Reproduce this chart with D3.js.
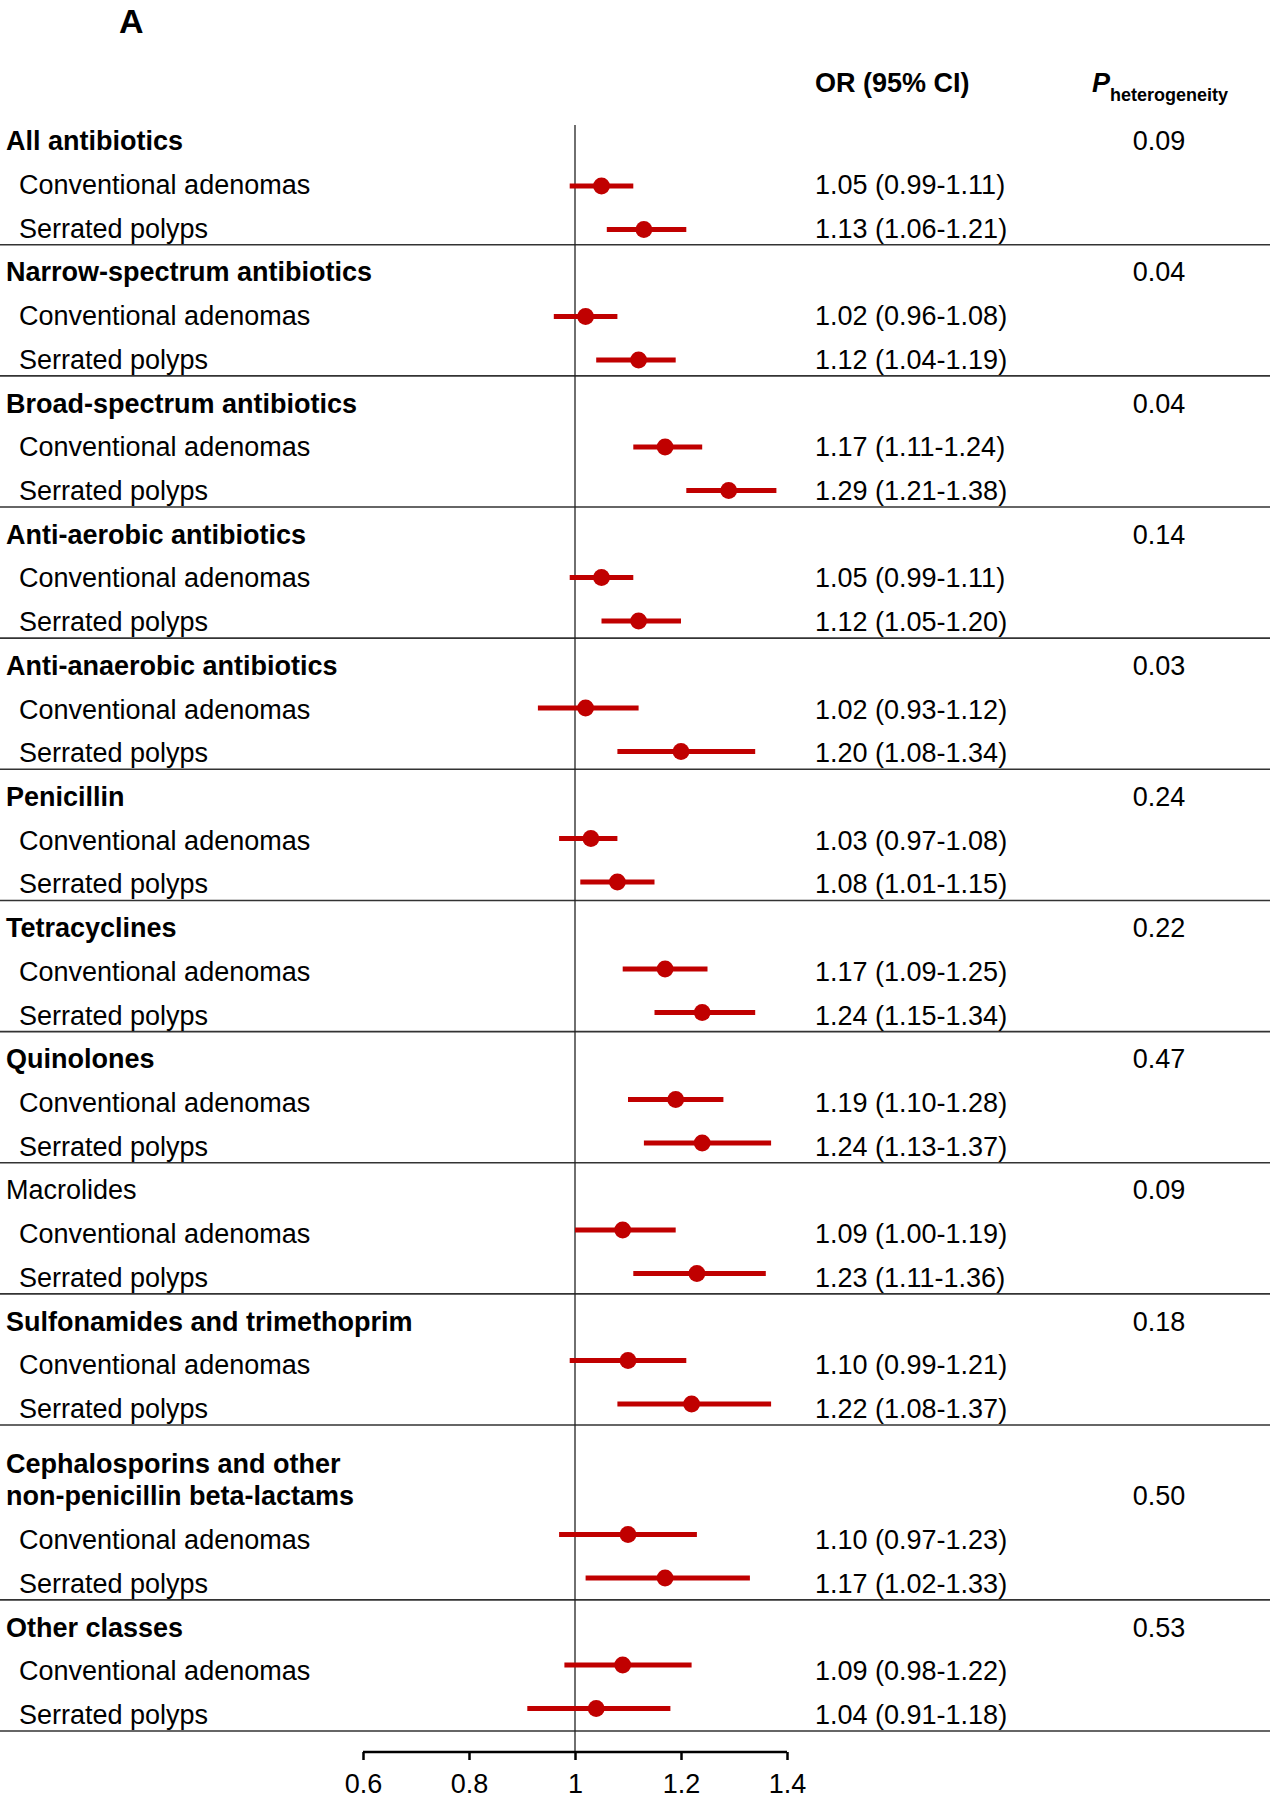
<!DOCTYPE html>
<html>
<head>
<meta charset="utf-8">
<script src="https://cdn.jsdelivr.net/npm/d3@7"></script>
<style>
  html, body { margin: 0; padding: 0; background: #fff; }
  svg text { font-family: "Liberation Sans", Arial, Helvetica, sans-serif; fill: #000; }
</style>
</head>
<body>
<svg id="chart" width="1277" height="1800"></svg>
<script>
// ---- data ----
const groupLabels = [
  ["All antibiotics"],
  ["Narrow-spectrum antibiotics"],
  ["Broad-spectrum antibiotics"],
  ["Anti-aerobic antibiotics"],
  ["Anti-anaerobic antibiotics"],
  ["Penicillin"],
  ["Tetracyclines"],
  ["Quinolones"],
  ["Macrolides"],
  ["Sulfonamides and trimethoprim"],
  ["Cephalosporins and other", "non-penicillin beta-lactams"],
  ["Other classes"]
];
const groupBold = [true, true, true, true, true, true, true, true, false, true, true, true];
const pHeterogeneity = ["0.09", "0.04", "0.04", "0.14", "0.03", "0.24", "0.22", "0.47", "0.09", "0.18", "0.50", "0.53"];
const subLabels = ["Conventional adenomas", "Serrated polyps"];

const caOR = [1.05, 1.02, 1.17, 1.05, 1.02, 1.03, 1.17, 1.19, 1.09, 1.10, 1.10, 1.09];
const caLo = [0.99, 0.96, 1.11, 0.99, 0.93, 0.97, 1.09, 1.10, 1.00, 0.99, 0.97, 0.98];
const caHi = [1.11, 1.08, 1.24, 1.11, 1.12, 1.08, 1.25, 1.28, 1.19, 1.21, 1.23, 1.22];
const spOR = [1.13, 1.12, 1.29, 1.12, 1.20, 1.08, 1.24, 1.24, 1.23, 1.22, 1.17, 1.04];
const spLo = [1.06, 1.04, 1.21, 1.05, 1.08, 1.01, 1.15, 1.13, 1.11, 1.08, 1.02, 0.91];
const spHi = [1.21, 1.19, 1.38, 1.20, 1.34, 1.15, 1.34, 1.37, 1.36, 1.37, 1.33, 1.18];

const axisTicks = [0.6, 0.8, 1, 1.2, 1.4];
const axisTickLabels = ["0.6", "0.8", "1", "1.2", "1.4"];

// ---- layout ----
const RED = "#c00000";
const FS = 27;
const svg = d3.select("#chart");

const x = d3.scaleLinear().domain([0.6, 1.4]).range([363, 787]);
const nLines = 37;
const textY = d3.scaleLinear().domain([0, nLines - 1]).range([142.3, 1716]);
const markY = d3.scaleLinear().domain([1, nLines - 1]).range([186, 1708.5]);
const axisY = 1752;

// build rows
const headers = [], rows = [], rules = [];
let line = 0;
groupLabels.forEach((lbl, g) => {
  line += lbl.length - 1;            // multi-line headers take extra slot
  headers.push({ g, line, lines: lbl, bold: groupBold[g], p: pHeterogeneity[g] });
  line += 1;
  rows.push({ g, line, label: subLabels[0], or: caOR[g], lo: caLo[g], hi: caHi[g] });
  line += 1;
  rows.push({ g, line, label: subLabels[1], or: spOR[g], lo: spLo[g], hi: spHi[g] });
  rules.push(line);
  line += 1;
});

const fmt = d3.format(".2f");
const BL = 8; // baseline offset from row centre

// panel letter
svg.append("text").attr("x", 119).attr("y", 33)
  .attr("font-size", 34).attr("font-weight", "bold").text("A");

// column headers
svg.append("text").attr("x", 815).attr("y", 92)
  .attr("font-size", FS).attr("font-weight", "bold").text("OR (95% CI)");
const ph = svg.append("text").attr("x", 1092).attr("y", 92)
  .attr("font-size", FS).attr("font-weight", "bold");
ph.append("tspan").attr("font-style", "italic").text("P");
ph.append("tspan").attr("dy", 9).attr("font-size", 18).text("heterogeneity");

// horizontal rules
svg.append("g").selectAll("line").data(rules).join("line")
  .attr("x1", 0).attr("x2", 1270)
  .attr("y1", d => textY(d) + 15).attr("y2", d => textY(d) + 15)
  .attr("stroke", "#333").attr("stroke-width", 1.6);

// reference line at OR = 1
svg.append("line")
  .attr("x1", x(1)).attr("x2", x(1))
  .attr("y1", 125).attr("y2", axisY)
  .attr("stroke", "#222").attr("stroke-width", 1.3);

// group headers
const hg = svg.append("g");
headers.forEach(h => {
  const n = h.lines.length;
  h.lines.forEach((t, k) => {
    hg.append("text")
      .attr("x", 6)
      .attr("y", textY(h.line) + BL - (n - 1 - k) * 32)
      .attr("font-size", FS)
      .attr("font-weight", h.bold ? "bold" : "normal")
      .text(t);
  });
  hg.append("text")
    .attr("x", 1159).attr("y", textY(h.line) + BL)
    .attr("text-anchor", "middle")
    .attr("font-size", FS)
    .text(h.p);
});

// sub-row labels
svg.append("g").selectAll("text").data(rows).join("text")
  .attr("x", 19).attr("y", d => textY(d.line) + BL)
  .attr("font-size", FS)
  .text(d => d.label);

// values text
svg.append("g").selectAll("text").data(rows).join("text")
  .attr("x", 815).attr("y", d => textY(d.line) + BL)
  .attr("font-size", FS)
  .text(d => `${fmt(d.or)} (${fmt(d.lo)}-${fmt(d.hi)})`);

// CI lines
svg.append("g").selectAll("line").data(rows).join("line")
  .attr("x1", d => x(d.lo)).attr("x2", d => x(d.hi))
  .attr("y1", d => markY(d.line)).attr("y2", d => markY(d.line))
  .attr("stroke", RED).attr("stroke-width", 5);

// points
svg.append("g").selectAll("circle").data(rows).join("circle")
  .attr("cx", d => x(d.or)).attr("cy", d => markY(d.line))
  .attr("r", 8.4).attr("fill", RED);

// x axis
const axis = d3.axisBottom(x)
  .tickValues(axisTicks)
  .tickFormat((d, i) => axisTickLabels[i])
  .tickSize(8).tickSizeOuter(8);
const ag = svg.append("g").attr("transform", `translate(0,${axisY})`).call(axis);
ag.select(".domain").attr("stroke", "#000").attr("stroke-width", 2.5)
  .attr("d", `M${x(0.6)},0H${x(1.4)}`);
ag.selectAll(".tick line").attr("stroke", "#000").attr("stroke-width", 2.5);
ag.selectAll(".tick text")
  .attr("y", 41).attr("dy", 0)
  .attr("font-size", FS)
  .attr("font-family", "'Liberation Sans', Arial, sans-serif")
  .attr("fill", "#000");
</script>
</body>
</html>
